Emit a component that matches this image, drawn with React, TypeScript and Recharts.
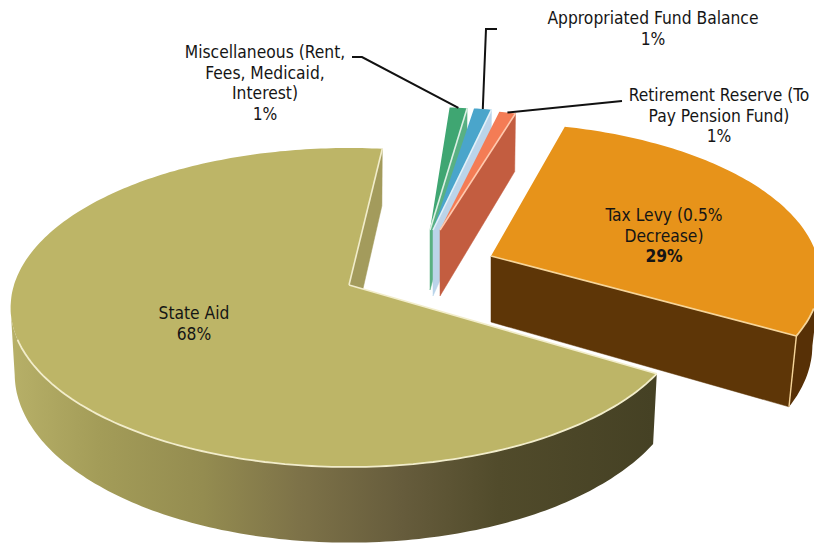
import React from 'react';
import { PieChart, Pie } from 'recharts';

const CATEGORIES = [
    'Miscellaneous (Rent, Fees, Medicaid, Interest)',
    'Appropriated Fund Balance',
    'Retirement Reserve (To Pay Pension Fund)',
    'Tax Levy (0.5% Decrease)',
    'State Aid',
];
const VALUES = [1, 1, 1, 29, 68];
const LABEL_LINES = [
    ['Miscellaneous (Rent,', 'Fees, Medicaid,', 'Interest)'],
    ['Appropriated Fund Balance'],
    ['Retirement Reserve (To', 'Pay Pension Fund)'],
    ['Tax Levy (0.5%', 'Decrease)'],
    ['State Aid'],
];

const data = CATEGORIES.map((name, i) => ({ name, value: VALUES[i], lines: LABEL_LINES[i], index: i }));

const FONT = '"DejaVu Sans Condensed", "DejaVu Sans", sans-serif';
const TILT = 0.141; // perspective of the disc, far side is squeezed

// per slice look: where the exploded piece sits and how it is shaded
const LOOKS: any[] = [
    { x: 430, y: 230, a: 320, b: 140, d: 60, rot: 2.8, shrink: 0.01, top: '#3FA672', edge: '#58B083', wall: '#4EA97B', line: '#DDF0E4' },
    { x: 433, y: 230, a: 320, b: 140, d: 66, rot: 2, shrink: 0.01, top: '#4AA5CB', edge: '#BBD4EA', wall: '#BBD4EA', line: '#E4F1F8' },
    { x: 440, y: 230, a: 300, b: 138, d: 66, rot: 1, shrink: 0.01, top: '#F47C55', edge: '#C35D40', wall: '#C35D40', line: '#FFC9AE' },
    { x: 491, y: 256, a: 326, b: 152, d: 66, rot: 2.7, shrink: 0.024, top: '#E7931A', edge: '#5E3607', wall: '#573006', line: '#F6D59A' },
    { x: 349, y: 285, a: 335, b: 156.3, d: 65, rot: 0.3, shrink: 0.012, top: '#BDB567', edge: '#A39B5C', wall: 'url(#stateWall)', line: '#F2EDCB' },
];

const WALL_STOPS = [
    ['0%', '#B7B068'], ['14%', '#A39C58'], ['30%', '#948C50'], ['45%', '#7D7248'],
    ['61%', '#665C3C'], ['76%', '#514B2B'], ['100%', '#454124'],
];

// where the text of each label goes
const LABEL_SPOTS = [
    { x: 265, y: 52, leader: [[352, 57], [362, 57]] },
    { x: 653, y: 18, leader: [[497, 29], [486, 29]] },
    { x: 719, y: 95, leader: [[622, 101]] },
    { x: 664, y: 215, leader: null },
    { x: 194, y: 313, leader: null },
];
const LINE_H = 20.5;

const project = (deg: number, z: number, look: any) => {
    const t = ((deg + look.rot) * Math.PI) / 180;
    const u = Math.cos(t);
    const v = Math.sin(t);
    const w = 1 + TILT * v;
    return [look.x + (look.a * u * (1 - look.shrink * z)) / w, look.y + (-look.b * v + look.d * z) / w];
};

const toPath = (pts: number[][], close = false) =>
    pts.map((p, i) => `${i ? 'L' : 'M'}${p[0].toFixed(1)} ${p[1].toFixed(1)}`).join(' ') + (close ? ' Z' : '');

const sweep = (lo: number, hi: number) => {
    const out: number[] = [];
    for (let d = lo; d < hi; d += 1) out.push(d);
    out.push(hi);
    return out;
};

const SliceShape = (props: any) => {
    const look = LOOKS[props.payload?.index ?? props.index ?? 0];
    const lo = Math.min(props.startAngle, props.endAngle);
    const hi = Math.max(props.startAngle, props.endAngle);
    const angles = sweep(lo, hi);
    const facing = angles.filter(d => Math.sin(((d + look.rot) * Math.PI) / 180) < -TILT);
    const hlArc = angles.filter(d => Math.sin(((d + look.rot) * Math.PI) / 180) < -0.33);
    const apex = [look.x, look.y];
    const apexLow = [look.x, look.y + look.d];

    return (
        <g>
            <defs>
                <linearGradient id="stateWall" gradientUnits="userSpaceOnUse" x1="10" y1="0" x2="653" y2="0">
                    {WALL_STOPS.map(([o, c]) => <stop key={o} offset={o} stopColor={c} />)}
                </linearGradient>
            </defs>
            <path d={toPath([apex, project(lo, 0, look), project(lo, 1, look), apexLow], true)}
                  fill={look.edge} stroke={look.edge} strokeWidth={0.5} />
            {facing.length > 1 && (
                <path d={toPath([...facing.map(d => project(d, 0, look)), ...[...facing].reverse().map(d => project(d, 1, look))], true)}
                      fill={look.wall} />
            )}
            <path d={toPath([apex, ...angles.map(d => project(d, 0, look))], true)} fill={look.top} />
            <path d={toPath([apex, project(lo, 0, look)])} fill="none" stroke={look.line} strokeWidth={1.6} />
            {hlArc.length > 1 && (
                <path d={toPath(hlArc.map(d => project(d, 0, look)))} fill="none" stroke={look.line} strokeWidth={1.8} />
            )}
            {look === LOOKS[4] && (
                <path d={toPath([apex, project(hi, 0, look)])} fill="none" stroke={look.line} strokeWidth={1.6} />
            )}
            {look === LOOKS[3] && (
                <path d={toPath([project(lo, 0, look), project(lo, 1, look)])} fill="none" stroke={look.line} strokeWidth={1.4} />
            )}
        </g>
    );
};

const renderLabel = (props: any) => {
    const i = props.payload?.index ?? props.index;
    const row = data[i];
    const spot = LABEL_SPOTS[i];
    const look = LOOKS[i];
    const mid = (props.startAngle + props.endAngle) / 2;
    const tip = project(mid, 0, look);
    return (
        <g key={row.name}>
            {spot.leader && (
                <path d={toPath([...spot.leader, tip])} fill="none" stroke="#111" strokeWidth={2} />
            )}
            <text x={spot.x} y={spot.y} textAnchor="middle" dominantBaseline="central"
                  fontFamily={FONT} fontSize={17.3} fill="#151515">
                {row.lines.map((l, n) => (
                    <tspan key={l} x={spot.x} y={spot.y + n * LINE_H}>{l}</tspan>
                ))}
                <tspan x={spot.x} y={spot.y + row.lines.length * LINE_H}
                       fontWeight={i === 3 ? 700 : 400}>{`${row.value}%`}</tspan>
            </text>
        </g>
    );
};

export default function App() {
    return (
        <div style={{ position: 'absolute', left: 0, top: 0, width: 814, height: 544, overflow: 'hidden', background: '#fff' }}>
            <PieChart width={814} height={544} margin={{ top: 0, right: 0, bottom: 0, left: 0 }}>
                <Pie
                    data={data}
                    dataKey="value"
                    nameKey="name"
                    cx={349}
                    cy={285}
                    outerRadius={200}
                    startAngle={83.2}
                    endAngle={-276.8}
                    stroke="none"
                    shape={SliceShape}
                    inactiveShape={SliceShape}
                    activeShape={SliceShape}
                    label={renderLabel}
                    labelLine={false}
                    isAnimationActive={false}
                />
            </PieChart>
        </div>
    );
}
